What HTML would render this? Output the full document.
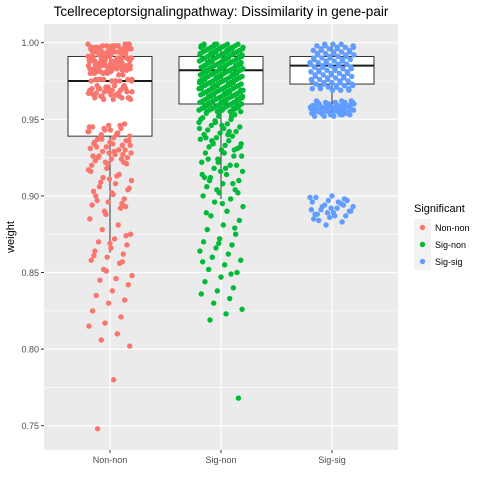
<!DOCTYPE html>
<html><head><meta charset="utf-8"><style>
body{margin:0;background:#fff;}
svg text{font-family:"Liberation Sans",sans-serif;}
</style></head><body>
<svg id="c" width="480" height="480"></svg>
<script>
const categories=["Non-non","Sig-non","Sig-sig"];
const colors=["#F8766D","#00BA38","#619CFF"];
const yTicks=[0.75,0.80,0.85,0.90,0.95,1.00];
const yTickLabels=["0.75","0.80","0.85","0.90","0.95","1.00"];
const boxQ1=[0.939,0.960,0.973];
const boxMed=[0.975,0.982,0.985];
const boxQ3=[0.991,0.991,0.991];
const boxLo=[0.863,0.898,0.953];
const boxHi=[0.999,0.999,0.999];
const band1=[0.999,0.998,0.997,0.996,0.995,0.994,0.993,0.992,0.991,0.990,0.989,0.988,0.987,0.986,0.985,0.984,0.983,0.982,0.981,0.980,0.979,0.998,0.996,0.994,0.992,0.990,0.988,0.986,0.984,0.982,0.997,0.995,0.993,0.991,0.989,0.987,0.985,0.983,0.981,0.999,0.997,0.995,0.993,0.991,0.989,0.987,0.985,0.983,0.998,0.994,0.990,0.986,0.982,0.996,0.992,0.988,0.984,0.980,0.975,0.975,0.976,0.976,0.975,0.976];
const nonNon=[].concat(band1,band1,
[0.972,0.971,0.970,0.969,0.968,0.967,0.966,0.965,0.964,0.963,0.972,0.970,0.968,0.966,0.964,0.971,0.969,0.967,0.965,0.963,0.972,0.970,0.968,0.966,0.964,0.971,0.969,0.967,0.965,0.963,0.968,0.966,0.970,0.964,0.969,0.967],
[0.947,0.946,0.945,0.944,0.943,0.942,0.941,0.940,0.939,0.938,0.937,0.936,0.935,0.934,0.933,0.932,0.931,0.930,0.929,0.928,0.927,0.926,0.925,0.924,0.923,0.922,0.921,0.920,0.946,0.944,0.942,0.940,0.938,0.936,0.934,0.932,0.930,0.928,0.926,0.924,0.922,0.945,0.941,0.937,0.933,0.929,0.925,0.921,0.943,0.935,0.927],
[0.918,0.916,0.914,0.912,0.910,0.908,0.906,0.904,0.902,0.900,0.898,0.896,0.894,0.892,0.890,0.917,0.913,0.909,0.905,0.901,0.897,0.893,0.911,0.903,0.895,0.888],
[0.885,0.881,0.878,0.875,0.872,0.870,0.868,0.866,0.864,0.862,0.860,0.858,0.856,0.852,0.848,0.846,0.845,0.842,0.838,0.835,0.832,0.830,0.825,0.821,0.817,0.815,0.810,0.806,0.802,0.780,0.748,0.874,0.869,0.861,0.857,0.851]);
const sig1=[0.999,0.997,0.995,0.993,0.991,0.989,0.987,0.985,0.983,0.981,0.979,0.977,0.975,0.973,0.971,0.969,0.967,0.965,0.963,0.961,0.959,0.957,0.955,0.998,0.996,0.994,0.992,0.990,0.988,0.986,0.984,0.982,0.980,0.978,0.976,0.974,0.972,0.970,0.968,0.966,0.964,0.962,0.960,0.958,0.956];
const sigNon=[].concat(sig1,sig1,sig1,sig1,sig1,
[0.954,0.953,0.952,0.951,0.950,0.949,0.948,0.947,0.946,0.945,0.944,0.943,0.942,0.941,0.940,0.939,0.938,0.937,0.936,0.935,0.934,0.933,0.932,0.931,0.930,0.928,0.926,0.924,0.922,0.920,0.918,0.916,0.914,0.912,0.910,0.908,0.906,0.904,0.902,0.900,0.952,0.948,0.944,0.940,0.936,0.932,0.928,0.924,0.920,0.916,0.912,0.908,0.904,0.950,0.942,0.934,0.926,0.918,0.910,0.902,0.946,0.938,0.930,0.922,0.914],
[0.898,0.896,0.893,0.890,0.887,0.884,0.881,0.878,0.875,0.872,0.870,0.868,0.866,0.864,0.862,0.860,0.858,0.855,0.852,0.850,0.847,0.844,0.840,0.838,0.836,0.833,0.830,0.826,0.823,0.819,0.768,0.895,0.889,0.879,0.869,0.857,0.849]);
const ss1=[0.999,0.998,0.997,0.996,0.995,0.994,0.993,0.992,0.991,0.990,0.989,0.988,0.987,0.986,0.985,0.984,0.983,0.982,0.981,0.980,0.979,0.978,0.977,0.976,0.975,0.974,0.973,0.972,0.971,0.970,0.969];
const ss2=[0.962,0.961,0.960,0.959,0.958,0.957,0.956,0.955,0.954,0.953,0.952,0.961,0.959,0.957,0.955,0.953,0.960,0.958,0.956,0.954];
const sigSig=[].concat(ss1,ss1,ss1,ss2,ss2,ss2,
[0.900,0.899,0.898,0.897,0.896,0.895,0.894,0.893,0.892,0.891,0.890,0.889,0.888,0.887,0.886,0.885,0.883,0.881,0.899,0.896,0.893,0.890,0.887,0.884,0.897,0.892,0.888,0.894,0.889,0.891]);
const series=[nonNon,sigNon,sigSig];

const NS="http://www.w3.org/2000/svg";
const svg=document.getElementById('c');
const L=44,R=398,T=24,B=450;
function y(v){return 42.7+(1.0-v)/0.05*76.6;}
function x(i){return 110+i*111;}
function mk(tag,attrs,parent){const e=document.createElementNS(NS,tag);for(const k in attrs)e.setAttribute(k,attrs[k]);(parent||svg).appendChild(e);return e;}
const panel=mk('rect',{x:L,y:T,width:R-L,height:B-T,fill:'#EBEBEB'});


for(let i=0;i<yTicks.length-1;i++){const m=(yTicks[i]+yTicks[i+1])/2;mk('line',{x1:L,x2:R,y1:y(m),y2:y(m),stroke:'#fff','stroke-width':0.6});}
yTicks.forEach((t,i)=>{
 mk('line',{x1:L,x2:R,y1:y(t),y2:y(t),stroke:'#fff','stroke-width':1.2});
 mk('line',{x1:L-3,x2:L,y1:y(t),y2:y(t),stroke:'#333','stroke-width':1});
 const tx=mk('text',{x:L-5,y:y(t)+3.5,'text-anchor':'end','font-size':9,fill:'#4d4d4d'});
 tx.textContent=yTickLabels[i];
 
 
});
categories.forEach((c,i)=>{
 mk('line',{x1:x(i),x2:x(i),y1:T,y2:B,stroke:'#fff','stroke-width':1.2});
 mk('line',{x1:x(i),x2:x(i),y1:B,y2:B+3,stroke:'#333','stroke-width':1});
 const tx=mk('text',{x:x(i),y:B+13,'text-anchor':'middle','font-size':9,fill:'#4d4d4d'});
 tx.textContent=c;
 
 
});
categories.forEach((c,i)=>{
 const g=mk('g',{});
 
 
 mk('line',{x1:x(i),x2:x(i),y1:y(boxHi[i]),y2:y(boxQ3[i]),stroke:'#333','stroke-width':1},g);
 mk('line',{x1:x(i),x2:x(i),y1:y(boxQ1[i]),y2:y(boxLo[i]),stroke:'#333','stroke-width':1},g);
 mk('rect',{x:x(i)-42,y:y(boxQ3[i]),width:84,height:y(boxQ1[i])-y(boxQ3[i]),fill:'#fff',stroke:'#333','stroke-width':1},g);
 mk('line',{x1:x(i)-42,x2:x(i)+42,y1:y(boxMed[i]),y2:y(boxMed[i]),stroke:'#1a1a1a','stroke-width':2},g);
});
series.forEach((vals,i)=>{
 const g=mk('g',{fill:colors[i]});
 
 
 vals.forEach((v,k)=>{
  const j=(((k*7919+i*131)%97)/96-0.5)*44;
  const p=mk('circle',{cx:x(i)+j,cy:y(v),r:2.7},g);
  
  
 });
});
const title=mk('text',{x:221,y:16,'text-anchor':'middle','font-size':13.5,fill:'#000'});
title.textContent='Tcellreceptorsignalingpathway: Dissimilarity in gene-pair';


const yl=mk('text',{x:14,y:237,'text-anchor':'middle','font-size':11,transform:'rotate(-90 14 237)'});
yl.textContent='weight';


const lt=mk('text',{x:414,y:212,'font-size':11});
lt.textContent='Significant';


categories.forEach((c,i)=>{
 const g=mk('g',{});
 
 
 mk('rect',{x:414,y:219+i*17,width:17,height:17,fill:'#F2F2F2'},g);
 mk('circle',{cx:422.5,cy:227.5+i*17,r:2.7,fill:colors[i]},g);
 const t=mk('text',{x:435,y:231+i*17,'font-size':9},g);
 t.textContent=c;
});
</script>
</body></html>
